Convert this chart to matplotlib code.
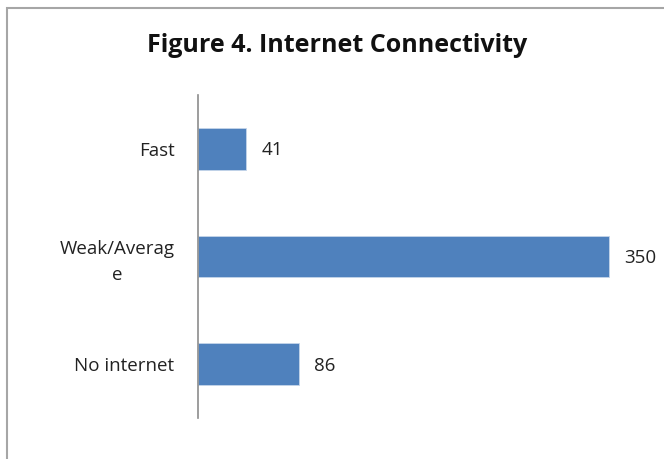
import matplotlib.pyplot as plt
from matplotlib.patches import Rectangle

categories = ["Fast", "Weak/Averag\ne", "No internet"]
values = [41, 350, 86]
title = "Figure 4. Internet Connectivity"

W, H = 664, 459
fig = plt.figure(figsize=(W / 100, H / 100), dpi=100)
plt.rcParams['font.family'] = ['Open Sans', 'DejaVu Sans']

# outer chart frame (only left and top edges visible in the crop)
fig.patches.append(Rectangle((7 / W, -0.1), 1.2, (H - 8) / H + 0.1,
                             transform=fig.transFigure, fill=False,
                             edgecolor='#a6a6a6', linewidth=1.5))

ax = fig.add_axes([198 / W, 1 - 418 / H, 446 / W, 323 / H])
pos = list(range(len(categories)))
ax.barh(pos, values, height=0.39, color='#4f81bd', edgecolor='#c5d5ea', linewidth=0.6)
ax.set_xlim(0, 380)
ax.set_ylim(2.5, -0.5)
ax.set_yticks(pos)
ax.set_yticklabels(categories, fontsize=13.5, color='#222222',
                   multialignment='center', linespacing=1.5)
ax.tick_params(axis='y', length=0, pad=17)
ax.set_xticks([])
for s in ['top', 'right', 'bottom']:
    ax.spines[s].set_visible(False)
ax.spines['left'].set_color('#8c8c8c')
ax.spines['left'].set_linewidth(1.2)

for p, v in zip(pos, values):
    ax.annotate(str(v), (v, p), xytext=(11, -1), textcoords='offset points',
                va='center', ha='left', fontsize=13.5, color='#222222',
                annotation_clip=False)

fig.text(337 / W, 1 - 45 / H, title, ha='center', va='center',
         fontsize=18, fontweight='bold', color='#111111')

fig.savefig('out.png', dpi=100, facecolor='white')
